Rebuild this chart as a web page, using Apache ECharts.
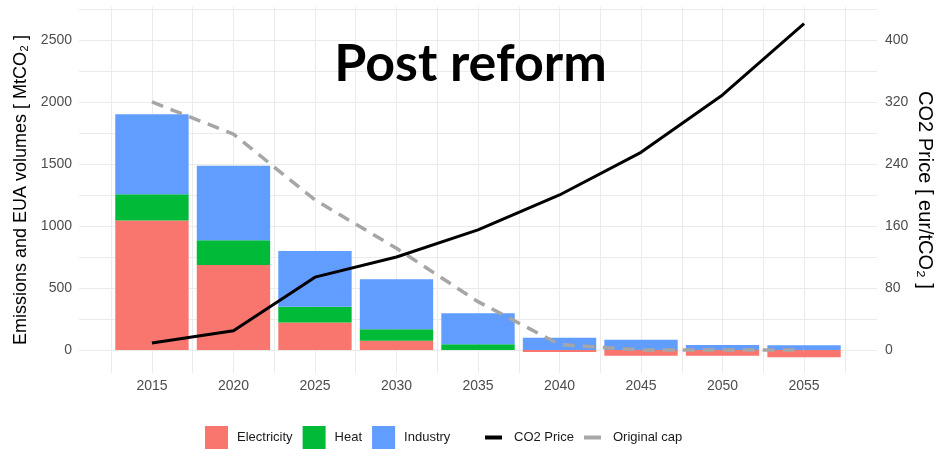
<!DOCTYPE html>
<html>
<head>
<meta charset="utf-8">
<script src="https://cdn.jsdelivr.net/npm/echarts@6/dist/echarts.min.js"></script>
<style>
  html, body { margin: 0; padding: 0; background: #fff; }
  #chart { width: 941px; height: 449px; }
</style>
</head>
<body>
<div id="chart"></div>
<script>
// Emissions by sector (MtCO2), EU ETS allowance cap and CO2 price, post-reform scenario
const years = [2015, 2020, 2025, 2030, 2035, 2040, 2045, 2050, 2055];
const electricity = [1045, 685, 223, 75, 0, -15, -45, -45, -58];
const heat = [210, 200, 126, 92, 46, 0, 0, 0, 0];
const industry = [645, 600, 449, 403, 250, 100, 82, 40, 38];
const co2Price = [9, 25, 94, 120, 155, 200, 255, 329, 421];
const originalCap = [2000, 1740, 1210, 820, 390, 45, 0, 0, 0];

// Axis ticks and panel grid lines
const emissionTicks = [0, 500, 1000, 1500, 2000, 2500];
const priceTicks = [0, 80, 160, 240, 320, 400];
const emissionGrid = [0, 250, 500, 750, 1000, 1250, 1500, 1750, 2000, 2250, 2500, 2750];
const yearGrid = [2012.5, 2015, 2017.5, 2020, 2022.5, 2025, 2027.5, 2030, 2032.5, 2035,
                  2037.5, 2040, 2042.5, 2045, 2047.5, 2050, 2052.5, 2055, 2057.5];

// Panel extents (data units) and layout
const Y_MIN = -185, Y_MAX = 2765;
const X_MIN = 2010.525, X_MAX = 2059.475;
const PRICE_RATIO = 2500 / 400;          // emissions units per eur/tCO2
const STEP = 5;                           // years between bars
const GRID = { left: 79, right: 64, top: 7, bottom: 76, outerBoundsMode: 'none', containLabel: false };
const W = 941;
const pxPerYear = (W - GRID.left - GRID.right) / (X_MAX - X_MIN);

// The stacked bars sit on a category axis whose bands span the same years
const firstBand = years[0] - STEP / 2, lastBand = years[years.length - 1] + STEP / 2;
const BAR_GRID = {
  left: GRID.left + (firstBand - X_MIN) * pxPerYear,
  right: GRID.right + (X_MAX - lastBand) * pxPerYear,
  top: GRID.top, bottom: GRID.bottom, outerBoundsMode: 'none', containLabel: false
};

const FONT = 'Liberation Sans, Arial, sans-serif';
const pairs = arr => years.map((y, i) => [y, arr[i]]);
const plain = v => String(v);

const chart = echarts.init(document.getElementById('chart'), null, { renderer: 'canvas' });

const barSeries = (name, values, color) => ({
  name, type: 'bar', stack: 'emissions', data: values,
  xAxisIndex: 1, yAxisIndex: 2,
  barWidth: '90%', itemStyle: { color }, z: 2,
  emphasis: { disabled: true }
});

const hiddenAxis = { show: false };

chart.setOption({
  animation: false,
  backgroundColor: '#ffffff',
  textStyle: { fontFamily: FONT },
  title: {
    text: 'Post reform', left: 'center', top: 33,
    textStyle: { fontFamily: 'Lato, Calibri, sans-serif', fontWeight: 'bold', fontSize: 52, color: '#000' }
  },
  grid: [GRID, BAR_GRID],
  legend: [
    {
      data: ['Electricity', 'Heat', 'Industry'], left: 205, top: 426, padding: 0,
      icon: 'rect', itemWidth: 23, itemHeight: 23, itemGap: 10, selectedMode: false,
      textStyle: { fontSize: 13, color: '#1a1a1a', padding: [0, 0, 0, 4] }
    },
    {
      data: ['CO2 Price', 'Original cap'], left: 485, top: 431, padding: 0,
      icon: 'rect', itemWidth: 17, itemHeight: 4, itemGap: 10, selectedMode: false,
      textStyle: { fontSize: 13, color: '#1a1a1a', padding: [0, 0, 0, 7] }
    }
  ],
  xAxis: [
    {
      type: 'value', gridIndex: 0, min: X_MIN, max: X_MAX,
      axisLine: { show: false }, axisTick: { show: false }, splitLine: { show: false },
      axisLabel: { customValues: years, formatter: plain, margin: 6, fontSize: 14, color: '#4d4d4d' }
    },
    {
      type: 'category', gridIndex: 1, data: years.map(String), ...hiddenAxis
    }
  ],
  yAxis: [
    {
      type: 'value', gridIndex: 0, min: Y_MIN, max: Y_MAX,
      name: 'Emissions and EUA volumes [ MtCO\u2082 ]', nameLocation: 'middle', nameGap: 46,
      nameTextStyle: { fontSize: 18, color: '#000' },
      axisLine: { show: false }, axisTick: { show: false }, splitLine: { show: false },
      axisLabel: { customValues: emissionTicks, formatter: plain, margin: 7, fontSize: 14, color: '#4d4d4d' }
    },
    {
      type: 'value', gridIndex: 0, min: Y_MIN / PRICE_RATIO, max: Y_MAX / PRICE_RATIO, position: 'right',
      name: 'CO2 Price [ eur/tCO\u2082 ]', nameLocation: 'middle', nameGap: 38, nameRotate: -90,
      nameMoveOverlap: false,
      nameTextStyle: { fontSize: 20, color: '#000' },
      axisLine: { show: false }, axisTick: { show: false }, splitLine: { show: false },
      axisLabel: { customValues: priceTicks, formatter: plain, margin: 8, fontSize: 14, color: '#4d4d4d' }
    },
    {
      type: 'value', gridIndex: 1, min: Y_MIN, max: Y_MAX, ...hiddenAxis
    }
  ],
  series: [
    {
      // panel grid lines
      type: 'line', data: [], silent: true, z: 0,
      markLine: {
        z: 1, silent: true, symbol: ['none', 'none'], animation: false,
        label: { show: false },
        lineStyle: { color: '#ebebeb', width: 1, type: 'solid' },
        emphasis: { disabled: true },
        data: [
          ...emissionGrid.map(v => ({ yAxis: v })),
          ...yearGrid.map(v => ({ xAxis: v }))
        ]
      }
    },
    barSeries('Electricity', electricity, '#F8766D'),
    barSeries('Heat', heat, '#00BA38'),
    barSeries('Industry', industry, '#619CFF'),
    {
      name: 'CO2 Price', type: 'line', yAxisIndex: 1, data: pairs(co2Price),
      symbol: 'none', z: 5,
      lineStyle: { color: '#000', width: 3 }, itemStyle: { color: '#000' },
      emphasis: { disabled: true }
    },
    {
      name: 'Original cap', type: 'line', data: pairs(originalCap),
      symbol: 'none', z: 4,
      lineStyle: { color: '#a6a6a6', width: 3.5, type: [12, 8] }, itemStyle: { color: '#a6a6a6' },
      emphasis: { disabled: true }
    }
  ]
});
</script>
</body>
</html>
